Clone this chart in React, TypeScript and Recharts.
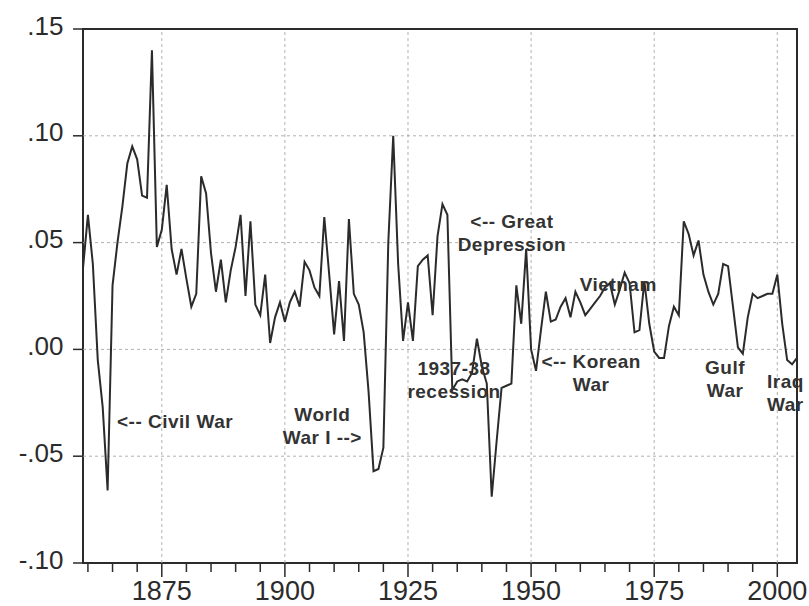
import React from 'react'
import { LineChart, Line, XAxis, YAxis, ReferenceLine, ReferenceArea, ReferenceDot } from 'recharts'

// years covered by the series
const years = [
  1859, 1860, 1861, 1862, 1863, 1864, 1865, 1866, 1867, 1868,
  1869, 1870, 1871, 1872, 1873, 1874, 1875, 1876, 1877, 1878,
  1879, 1880, 1881, 1882, 1883, 1884, 1885, 1886, 1887, 1888,
  1889, 1890, 1891, 1892, 1893, 1894, 1895, 1896, 1897, 1898,
  1899, 1900, 1901, 1902, 1903, 1904, 1905, 1906, 1907, 1908,
  1909, 1910, 1911, 1912, 1913, 1914, 1915, 1916, 1917, 1918,
  1919, 1920, 1921, 1922, 1923, 1924, 1925, 1926, 1927, 1928,
  1929, 1930, 1931, 1932, 1933, 1934, 1935, 1936, 1937, 1938,
  1939, 1940, 1941, 1942, 1943, 1944, 1945, 1946, 1947, 1948,
  1949, 1950, 1951, 1952, 1953, 1954, 1955, 1956, 1957, 1958,
  1959, 1960, 1961, 1962, 1963, 1964, 1965, 1966, 1967, 1968,
  1969, 1970, 1971, 1972, 1973, 1974, 1975, 1976, 1977, 1978,
  1979, 1980, 1981, 1982, 1983, 1984, 1985, 1986, 1987, 1988,
  1989, 1990, 1991, 1992, 1993, 1994, 1995, 1996, 1997, 1998,
  1999, 2000, 2001, 2002, 2003, 2004,
]

const values = [
  0.038, 0.063, 0.040, -0.005, -0.027, -0.066, 0.030, 0.050, 0.067, 0.087,
  0.095, 0.089, 0.072, 0.071, 0.140, 0.048, 0.056, 0.077, 0.047, 0.035,
  0.047, 0.033, 0.020, 0.026, 0.081, 0.073, 0.045, 0.027, 0.042, 0.022,
  0.037, 0.048, 0.063, 0.025, 0.060, 0.021, 0.016, 0.035, 0.003, 0.015,
  0.022, 0.013, 0.022, 0.027, 0.020, 0.041, 0.037, 0.029, 0.025, 0.062,
  0.035, 0.007, 0.032, 0.004, 0.061, 0.026, 0.021, 0.008, -0.020, -0.057,
  -0.056, -0.046, 0.050, 0.100, 0.040, 0.004, 0.022, 0.004, 0.039, 0.042,
  0.044, 0.016, 0.053, 0.068, 0.063, -0.019, -0.015, -0.014, -0.015, -0.011,
  0.005, -0.008, -0.016, -0.069, -0.043, -0.018, -0.017, -0.016, 0.030, 0.012,
  0.047, 0.000, -0.010, 0.009, 0.027, 0.013, 0.014, 0.020, 0.024, 0.015,
  0.027, 0.022, 0.016, 0.019, 0.022, 0.025, 0.029, 0.031, 0.021, 0.028,
  0.036, 0.031, 0.008, 0.009, 0.032, 0.012, -0.001, -0.004, -0.004, 0.011,
  0.020, 0.016, 0.060, 0.054, 0.044, 0.051, 0.035, 0.027, 0.021, 0.026,
  0.040, 0.039, 0.020, 0.001, -0.002, 0.015, 0.026, 0.024, 0.025, 0.026,
  0.026, 0.035, 0.012, -0.005, -0.007, -0.004,
]

const xTicks = [
  1860, 1865, 1870, 1875, 1880, 1885, 1890, 1895, 1900, 1905, 1910, 1915,
  1920, 1925, 1930, 1935, 1940, 1945, 1950, 1955, 1960, 1965, 1970, 1975,
  1980, 1985, 1990, 1995, 2000,
]
const xLabelYears = [1875, 1900, 1925, 1950, 1975, 2000]

const yTicks = [-0.1, -0.05, 0, 0.05, 0.1, 0.15]
const yTickLabels = ['-.10', '-.05', '.00', '.05', '.10', '.15']
const yGrid = [-0.05, 0, 0.05, 0.1]

// annotation text, anchored in data coordinates
const notes = [
  { year: 1865.9, value: -0.0334, lines: ['<-- Civil War'], align: 'start' },
  { year: 1907.6, value: -0.0303, lines: ['World', 'War I -->'], align: 'middle' },
  { year: 1934.35, value: -0.0086, lines: ['1937-38', 'recession'], align: 'middle' },
  { year: 1946.1, value: 0.0602, lines: ['<-- Great', 'Depression'], align: 'middle' },
  { year: 1962.2, value: -0.0053, lines: ['<-- Korean', 'War'], align: 'middle' },
  { year: 1967.7, value: 0.0306, lines: ['Vietnam'], align: 'middle' },
  { year: 1989.4, value: -0.0081, lines: ['Gulf', 'War'], align: 'middle' },
  { year: 1997.9, value: -0.0146, lines: ['Iraq', 'War'], align: 'start' },
]

const data = years.map((year, i) => ({ year, v: values[i] }))

const FONT = '"Liberation Sans", Arial, sans-serif'
const INK = '#2b2b2b'

function XTick(props: any) {
  const { x, y, payload } = props
  const major = xLabelYears.includes(payload.value)
  return (
    <g>
      <line x1={x} x2={x} y1={y} y2={y + (major ? 14 : 9)} stroke={INK} strokeWidth={1.5} />
      {major && (
        <text x={x} y={y + 37} textAnchor="middle" fontSize={27} fontFamily={FONT} fill={INK}>
          {payload.value}
        </text>
      )}
    </g>
  )
}

function YTick(props: any) {
  const { x, y, payload } = props
  const idx = yTicks.findIndex((t) => Math.abs(t - payload.value) < 1e-9)
  return (
    <g>
      <line x1={x - 10} x2={x} y1={y} y2={y} stroke={INK} strokeWidth={1.5} />
      <text x={x - 19.5} y={y + 5.5} textAnchor="end" fontSize={26} fontFamily={FONT} fill={INK}>
        {yTickLabels[idx]}
      </text>
    </g>
  )
}

function Note(props: any) {
  const { viewBox, lines, align } = props
  if (!viewBox) return null
  const cx = viewBox.x + viewBox.width / 2
  const cy = viewBox.y + viewBox.height / 2
  return (
    <text
      x={cx}
      y={cy + 7}
      textAnchor={align}
      fontSize={19}
      fontWeight="bold"
      letterSpacing={0.5}
      fontFamily={FONT}
      fill="#333"
    >
      {lines.map((l: string, i: number) => (
        <tspan key={i} x={cx} dy={i === 0 ? 0 : 23}>
          {l}
        </tspan>
      ))}
    </text>
  )
}

export default function App() {
  return (
    <div style={{ width: 809, height: 606, background: '#fff' }}>
      <style>{'body{margin:0}'}</style>
      <LineChart
        width={809}
        height={606}
        data={data}
        margin={{ top: 29, right: 12, bottom: 0, left: 0 }}
      >
        <XAxis
          dataKey="year"
          type="number"
          domain={[1859, 2004]}
          ticks={xTicks}
          interval={0}
          height={43}
          axisLine={false}
          tickLine={false}
          tickSize={0}
          tickMargin={0}
          tick={<XTick />}
          allowDataOverflow
        />
        <YAxis
          type="number"
          domain={[-0.1, 0.15]}
          ticks={yTicks}
          interval={0}
          width={83}
          axisLine={false}
          tickLine={false}
          tickSize={0}
          tickMargin={0}
          tick={<YTick />}
          allowDataOverflow
        />
        {xLabelYears.map((yr) => (
          <ReferenceLine key={'gx' + yr} x={yr} stroke="#a8a8a8" strokeWidth={0.9} strokeDasharray="3 3" />
        ))}
        {yGrid.map((v) => (
          <ReferenceLine key={'gy' + v} y={v} stroke="#a8a8a8" strokeWidth={0.9} strokeDasharray="3 3" />
        ))}
        <Line
          type="linear"
          dataKey="v"
          stroke={INK}
          strokeWidth={2}
          dot={false}
          isAnimationActive={false}
        />
        {notes.map((n, i) => (
          <ReferenceDot
            key={'n' + i}
            x={n.year}
            y={n.value}
            r={1}
            fill="none"
            stroke="none"
            label={<Note lines={n.lines} align={n.align} />}
          />
        ))}
        <ReferenceArea
          x1={1859}
          x2={2004}
          y1={-0.1}
          y2={0.15}
          fill="none"
          fillOpacity={0}
          stroke={INK}
          strokeWidth={2}
        />
      </LineChart>
    </div>
  )
}
